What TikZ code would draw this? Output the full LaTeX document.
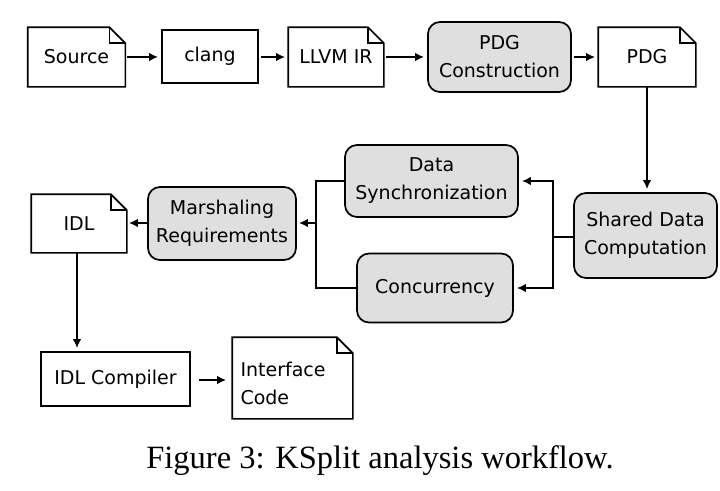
\documentclass[tikz,border=0pt]{standalone}
\usepackage{fontspec}
\setmainfont{DejaVu Sans}
\newfontfamily\capfont{Liberation Serif}
\usetikzlibrary{calc,arrows.meta}
\tikzset{
  base/.style={draw=black,line width=1.7pt,inner sep=0pt,align=center,
    font=\fontsize{19}{28}\selectfont},
  docbox/.style={base,draw=none},
  plainbox/.style={base},
  procbox/.style={base,rounded corners=12pt,fill=gray!25},
  conn/.style={line width=1.7pt,-{Latex[length=9pt,width=8.5pt]}},
  line/.style={line width=1.7pt},
}
\newcommand\docshape[1]{%
  \draw[line width=1.7pt,line join=miter] (#1.south west) -- (#1.north west)
    -- ($(#1.north east)+(-16pt,0)$) -- ($(#1.north east)+(0,-16pt)$)
    -- (#1.south east) -- cycle;
  \draw[line width=1.7pt] ($(#1.north east)+(-16pt,0)$) -- ($(#1.north east)+(-16pt,-16pt)$)
    -- ($(#1.north east)+(0,-16pt)$);}
\begin{document}
\begin{tikzpicture}[x=1pt,y=-1pt]
\useasboundingbox (0,0) rectangle (720,490);
% top row
\node[docbox,minimum width=96pt,minimum height=58pt] (src) at (76.5,57) {Source};
\node[plainbox,minimum width=96pt,minimum height=53pt] (clang) at (210,56.5) {clang};
\node[docbox,minimum width=94pt,minimum height=58pt] (llvm) at (336,57) {LLVM IR};
\node[procbox,minimum width=143pt,minimum height=70pt] (pdgc) at (499.5,57) {PDG\\Construction};
\node[docbox,minimum width=96pt,minimum height=58pt] (pdg) at (647,57) {PDG};
% middle
\node[procbox,minimum width=143pt,minimum height=85pt] (sdc) at (645.5,235.5) {Shared Data\\Computation};
\node[procbox,minimum width=173pt,minimum height=72pt] (ds) at (431.5,181) {Data\\Synchronization};
\node[procbox,minimum width=156pt,minimum height=69pt] (conc) at (435,288) {Concurrency};
\node[procbox,minimum width=148pt,minimum height=73pt] (mr) at (222,223.5) {Marshaling\\Requirements};
\node[docbox,minimum width=94pt,minimum height=57pt] (idl) at (79,223.5) {IDL};
% bottom
\node[plainbox,minimum width=149pt,minimum height=54pt] (idlc) at (115.5,379) {IDL Compiler};
\node[docbox,minimum width=119pt,minimum height=80pt,align=left] (ic) at (292.5,378) {};
\node[anchor=west,align=left,font=\fontsize{19}{28}\selectfont] (ict) at (237,383) {Interface\\Code};
\docshape{src}
\docshape{llvm}
\docshape{pdg}
\docshape{idl}
\docshape{ic}
% connectors
\draw[conn,shorten <=2pt,shorten >=3pt] (src.east) -- (clang.west |- src.east);
\draw[conn,shorten <=2pt,shorten >=3pt] (clang.east |- src.east) -- (llvm.west);
\draw[conn,shorten <=2pt,shorten >=3pt] (llvm.east) -- (pdgc.west |- llvm.east);
\draw[conn,shorten <=2pt,shorten >=3pt] (pdgc.east |- pdg.west) -- (pdg.west);
\draw[conn,shorten >=3pt] (pdg.south) -- (pdg.south |- sdc.north);
\coordinate (br) at (553,237);
\draw[line] (sdc.west |- br) -- (br);
\draw[conn,shorten >=3pt] (br) -- (br |- ds.east) -- (ds.east);
\draw[conn,shorten >=3pt] (br) -- (br |- conc.east) -- (conc.east);
\coordinate (mg) at (316,223);
\draw[line] (ds.west) -| (mg |- conc.west) -- (conc.west);
\draw[conn,shorten >=2pt] (mg) -- (mr.east |- mg);
\draw[conn,shorten >=2pt] (mr.west |- mg) -- (idl.east |- mg);
\draw[conn,shorten >=3pt] (77,252) coordinate (idls) -- (idls |- idlc.north);
\draw[conn,shorten <=8pt,shorten >=6pt] (idlc.east |- 0,380) -- (ic.west |- 0,380);
% caption
\node[font=\capfont\fontsize{32.5}{38}\selectfont] (cap) at (380,461) {Figure 3: KSplit analysis workflow.};
\end{tikzpicture}
\end{document}
